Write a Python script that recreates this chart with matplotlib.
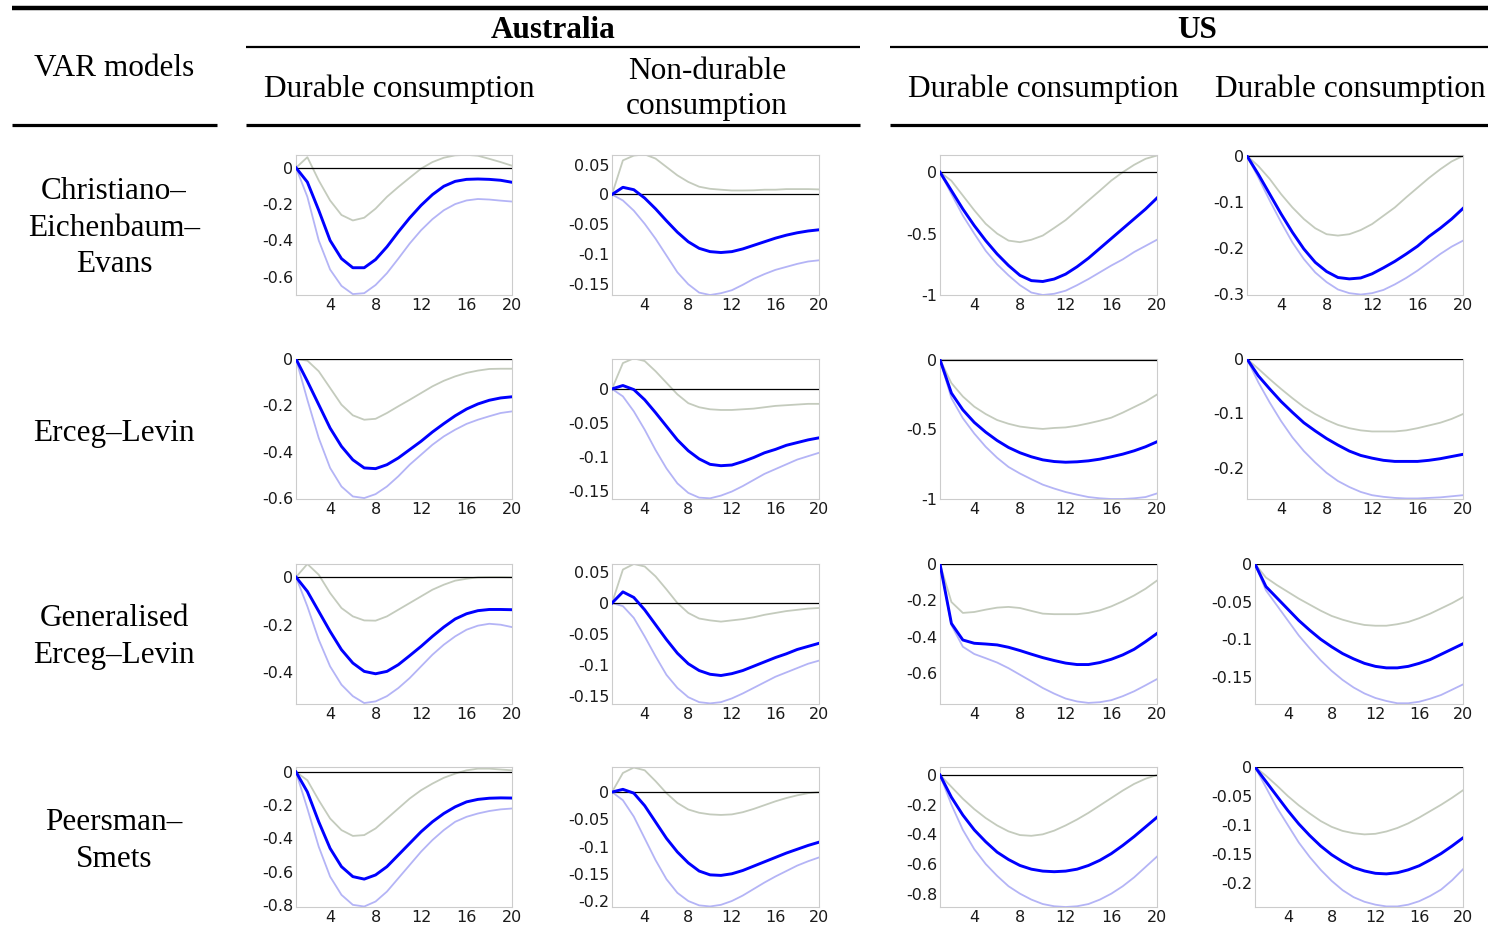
import matplotlib
matplotlib.use("Agg")
import matplotlib.pyplot as plt
from matplotlib.lines import Line2D

plt.rcParams['axes.unicode_minus'] = False

W, H = 1488, 940
horizon = list(range(1, 21))

# ---- impulse responses: median, upper and lower bands ----
# Christiano-Eichenbaum-Evans
cee_au_dur_mid = [0, -0.079, -0.234, -0.40, -0.50, -0.55, -0.55, -0.505, -0.435, -0.353,
                  -0.276, -0.207, -0.148, -0.102, -0.075, -0.064, -0.062, -0.064, -0.069, -0.08]
cee_au_dur_hi = [0, 0.058, -0.07, -0.18, -0.26, -0.29, -0.275, -0.225, -0.16, -0.106,
                 -0.055, -0.005, 0.031, 0.055, 0.068, 0.071, 0.066, 0.049, 0.031, 0.011]
cee_au_dur_lo = [0, -0.16, -0.40, -0.56, -0.65, -0.695, -0.69, -0.645, -0.58, -0.50,
                 -0.417, -0.344, -0.283, -0.234, -0.20, -0.18, -0.172, -0.175, -0.181, -0.186]

cee_au_nd_mid = [0, 0.012, 0.008, -0.006, -0.024, -0.044, -0.063, -0.079, -0.09, -0.0955,
                 -0.097, -0.0955, -0.091, -0.085, -0.079, -0.073, -0.068, -0.064, -0.061, -0.059]
cee_au_nd_hi = [0, 0.057, 0.065, 0.067, 0.06, 0.046, 0.032, 0.021, 0.013, 0.0095,
                0.008, 0.0067, 0.0067, 0.007, 0.008, 0.008, 0.009, 0.009, 0.009, 0.0085]
cee_au_nd_lo = [0, -0.01, -0.027, -0.049, -0.074, -0.102, -0.13, -0.15, -0.164, -0.168,
                -0.165, -0.16, -0.151, -0.141, -0.133, -0.126, -0.121, -0.116, -0.112, -0.11]

cee_us_dur_mid = [0, -0.15, -0.30, -0.435, -0.557, -0.666, -0.76, -0.84, -0.883, -0.89,
                  -0.87, -0.83, -0.77, -0.70, -0.62, -0.54, -0.46, -0.38, -0.30, -0.21]
cee_us_dur_hi = [0, -0.07, -0.19, -0.31, -0.42, -0.50, -0.557, -0.57, -0.55, -0.516,
                 -0.454, -0.39, -0.31, -0.23, -0.15, -0.068, 0.0, 0.06, 0.109, 0.136]
cee_us_dur_lo = [0, -0.177, -0.353, -0.50, -0.64, -0.75, -0.84, -0.92, -0.98, -1.0,
                 -0.99, -0.965, -0.92, -0.87, -0.815, -0.76, -0.71, -0.65, -0.60, -0.55]

cee_us_dur2_mid = [0, -0.04, -0.083, -0.126, -0.166, -0.202, -0.231, -0.251, -0.264, -0.267,
                   -0.265, -0.256, -0.243, -0.229, -0.213, -0.196, -0.175, -0.157, -0.137, -0.114]
cee_us_dur2_hi = [0, -0.022, -0.05, -0.083, -0.112, -0.137, -0.157, -0.17, -0.173, -0.17,
                  -0.161, -0.148, -0.13, -0.112, -0.09, -0.069, -0.048, -0.029, -0.012, 0.0]
cee_us_dur2_lo = [0, -0.047, -0.097, -0.144, -0.188, -0.224, -0.253, -0.274, -0.29, -0.298,
                  -0.301, -0.298, -0.291, -0.279, -0.265, -0.249, -0.231, -0.213, -0.197, -0.184]

# Erceg-Levin
el_au_dur_mid = [0, -0.096, -0.197, -0.298, -0.377, -0.435, -0.47, -0.473, -0.456, -0.427,
                 -0.391, -0.355, -0.315, -0.279, -0.245, -0.216, -0.194, -0.178, -0.168, -0.163]
el_au_dur_hi = [0, -0.007, -0.053, -0.125, -0.197, -0.243, -0.262, -0.258, -0.233, -0.204,
                -0.176, -0.147, -0.118, -0.094, -0.075, -0.06, -0.05, -0.043, -0.042, -0.042]
el_au_dur_lo = [0, -0.176, -0.341, -0.47, -0.55, -0.593, -0.60, -0.583, -0.55, -0.506,
                -0.456, -0.413, -0.37, -0.334, -0.305, -0.28, -0.262, -0.247, -0.233, -0.226]

el_au_nd_mid = [0, 0.005, -0.001, -0.016, -0.035, -0.055, -0.075, -0.091, -0.103, -0.111,
                -0.113, -0.112, -0.107, -0.101, -0.094, -0.089, -0.083, -0.079, -0.075, -0.072]
el_au_nd_hi = [0, 0.038, 0.045, 0.041, 0.026, 0.009, -0.008, -0.021, -0.027, -0.03,
               -0.031, -0.031, -0.03, -0.029, -0.027, -0.025, -0.024, -0.023, -0.022, -0.022]
el_au_nd_lo = [0, -0.011, -0.033, -0.06, -0.09, -0.117, -0.139, -0.153, -0.16, -0.161,
               -0.157, -0.151, -0.143, -0.134, -0.125, -0.118, -0.111, -0.104, -0.099, -0.094]

el_us_dur_mid = [0, -0.24, -0.36, -0.45, -0.52, -0.58, -0.63, -0.668, -0.697, -0.719,
                 -0.731, -0.736, -0.733, -0.726, -0.714, -0.697, -0.678, -0.654, -0.625, -0.589]
el_us_dur_hi = [0, -0.168, -0.264, -0.337, -0.39, -0.433, -0.46, -0.48, -0.49, -0.497,
                -0.49, -0.486, -0.474, -0.457, -0.438, -0.416, -0.38, -0.34, -0.30, -0.25]
el_us_dur_lo = [0, -0.276, -0.42, -0.53, -0.625, -0.704, -0.77, -0.817, -0.858, -0.897,
                -0.925, -0.95, -0.969, -0.986, -0.995, -1.0, -1.0, -0.995, -0.986, -0.96]

el_us_dur2_mid = [0, -0.031, -0.055, -0.078, -0.098, -0.117, -0.132, -0.146, -0.158, -0.169,
                  -0.177, -0.182, -0.186, -0.188, -0.188, -0.188, -0.186, -0.183, -0.179, -0.175]
el_us_dur2_hi = [0, -0.018, -0.037, -0.055, -0.072, -0.088, -0.101, -0.112, -0.121, -0.127,
                 -0.131, -0.133, -0.133, -0.133, -0.131, -0.127, -0.122, -0.117, -0.11, -0.101]
el_us_dur2_lo = [0, -0.043, -0.08, -0.114, -0.144, -0.169, -0.19, -0.209, -0.224, -0.235,
                 -0.244, -0.25, -0.253, -0.255, -0.256, -0.256, -0.255, -0.254, -0.252, -0.25]

# Generalised Erceg-Levin
gel_au_dur_mid = [0, -0.06, -0.144, -0.228, -0.305, -0.361, -0.396, -0.406, -0.396, -0.368,
                  -0.33, -0.291, -0.249, -0.21, -0.176, -0.154, -0.141, -0.136, -0.136, -0.137]
gel_au_dur_hi = [0, 0.055, 0.01, -0.067, -0.13, -0.165, -0.182, -0.183, -0.165, -0.137,
                 -0.109, -0.081, -0.053, -0.032, -0.015, -0.007, -0.001, 0.0, 0.0, -0.001]
gel_au_dur_lo = [0, -0.123, -0.263, -0.375, -0.452, -0.50, -0.529, -0.522, -0.50, -0.466,
                 -0.424, -0.375, -0.326, -0.284, -0.249, -0.221, -0.204, -0.196, -0.20, -0.21]

gel_au_nd_mid = [0, 0.018, 0.009, -0.011, -0.035, -0.059, -0.081, -0.098, -0.109, -0.115,
                 -0.117, -0.114, -0.109, -0.102, -0.095, -0.088, -0.082, -0.075, -0.07, -0.065]
gel_au_nd_hi = [0, 0.054, 0.063, 0.059, 0.043, 0.022, 0.0, -0.016, -0.025, -0.028,
                -0.03, -0.028, -0.026, -0.023, -0.019, -0.016, -0.013, -0.011, -0.009, -0.008]
gel_au_nd_lo = [0, -0.005, -0.024, -0.054, -0.086, -0.116, -0.137, -0.152, -0.16, -0.162,
                -0.16, -0.154, -0.146, -0.137, -0.128, -0.119, -0.112, -0.105, -0.098, -0.093]

gel_us_dur_mid = [0, -0.327, -0.418, -0.436, -0.44, -0.445, -0.458, -0.476, -0.496, -0.515,
                  -0.531, -0.545, -0.553, -0.553, -0.542, -0.524, -0.50, -0.469, -0.427, -0.382]
gel_us_dur_hi = [0, -0.209, -0.269, -0.264, -0.251, -0.24, -0.236, -0.242, -0.258, -0.273,
                 -0.276, -0.276, -0.276, -0.269, -0.255, -0.233, -0.205, -0.173, -0.136, -0.091]
gel_us_dur_lo = [0, -0.336, -0.455, -0.495, -0.518, -0.542, -0.573, -0.609, -0.645, -0.682,
                 -0.713, -0.74, -0.756, -0.764, -0.76, -0.749, -0.727, -0.70, -0.667, -0.633]

gel_us_dur2_mid = [0, -0.03, -0.045, -0.06, -0.075, -0.088, -0.1, -0.11, -0.119, -0.126,
                   -0.132, -0.136, -0.138, -0.138, -0.136, -0.132, -0.127, -0.12, -0.113, -0.106]
gel_us_dur2_hi = [0, -0.018, -0.028, -0.037, -0.046, -0.054, -0.062, -0.069, -0.074, -0.078,
                  -0.081, -0.082, -0.082, -0.08, -0.077, -0.072, -0.066, -0.059, -0.052, -0.044]
gel_us_dur2_lo = [0, -0.035, -0.055, -0.075, -0.095, -0.112, -0.128, -0.142, -0.154, -0.164,
                  -0.172, -0.178, -0.182, -0.185, -0.185, -0.183, -0.179, -0.174, -0.167, -0.16]

# Peersman-Smets
ps_au_dur_mid = [0, -0.12, -0.30, -0.46, -0.57, -0.63, -0.645, -0.62, -0.57, -0.50,
                 -0.43, -0.36, -0.30, -0.25, -0.21, -0.18, -0.165, -0.158, -0.156, -0.157]
ps_au_dur_hi = [0, -0.05, -0.17, -0.28, -0.35, -0.385, -0.38, -0.34, -0.28, -0.22,
                -0.16, -0.11, -0.07, -0.035, -0.01, 0.01, 0.02, 0.02, 0.015, 0.01]
ps_au_dur_lo = [0, -0.22, -0.45, -0.63, -0.74, -0.80, -0.81, -0.78, -0.72, -0.64,
                -0.56, -0.48, -0.41, -0.35, -0.30, -0.27, -0.25, -0.235, -0.225, -0.22]

ps_au_nd_mid = [0, 0.005, -0.002, -0.025, -0.055, -0.085, -0.11, -0.13, -0.145, -0.152,
                -0.153, -0.15, -0.144, -0.136, -0.128, -0.12, -0.112, -0.105, -0.098, -0.092]
ps_au_nd_hi = [0, 0.035, 0.045, 0.04, 0.02, -0.002, -0.02, -0.032, -0.038, -0.041,
               -0.042, -0.041, -0.037, -0.031, -0.024, -0.017, -0.011, -0.006, -0.002, 0.0]
ps_au_nd_lo = [0, -0.015, -0.045, -0.085, -0.125, -0.16, -0.185, -0.20, -0.208, -0.21,
               -0.207, -0.20, -0.19, -0.178, -0.166, -0.155, -0.145, -0.135, -0.127, -0.12]

ps_us_dur_mid = [0, -0.15, -0.27, -0.37, -0.45, -0.52, -0.57, -0.61, -0.635, -0.648,
                 -0.652, -0.648, -0.635, -0.61, -0.575, -0.53, -0.475, -0.415, -0.35, -0.285]
ps_us_dur_hi = [0, -0.08, -0.16, -0.23, -0.29, -0.34, -0.38, -0.405, -0.41, -0.40,
                -0.375, -0.34, -0.30, -0.255, -0.205, -0.155, -0.105, -0.06, -0.025, 0.0]
ps_us_dur_lo = [0, -0.20, -0.37, -0.50, -0.60, -0.68, -0.75, -0.80, -0.84, -0.87,
                -0.885, -0.89, -0.885, -0.87, -0.84, -0.80, -0.75, -0.69, -0.62, -0.55]

ps_us_dur2_mid = [0, -0.025, -0.05, -0.075, -0.098, -0.118, -0.136, -0.151, -0.163, -0.173,
                  -0.179, -0.183, -0.184, -0.182, -0.177, -0.17, -0.16, -0.149, -0.136, -0.122]
ps_us_dur2_hi = [0, -0.015, -0.032, -0.05, -0.066, -0.08, -0.093, -0.103, -0.11, -0.114,
                 -0.116, -0.115, -0.111, -0.105, -0.097, -0.087, -0.076, -0.065, -0.053, -0.04]
ps_us_dur2_lo = [0, -0.035, -0.07, -0.10, -0.13, -0.155, -0.177, -0.196, -0.212, -0.224,
                 -0.232, -0.237, -0.24, -0.24, -0.237, -0.231, -0.222, -0.211, -0.195, -0.176]

# y ticks and limits for each panel, row by row
yticks = [
    [[0, -0.2, -0.4, -0.6], [0.05, 0, -0.05, -0.1, -0.15], [0, -0.5, -1], [0, -0.1, -0.2, -0.3]],
    [[0, -0.2, -0.4, -0.6], [0, -0.05, -0.1, -0.15], [0, -0.5, -1], [0, -0.1, -0.2]],
    [[0, -0.2, -0.4], [0.05, 0, -0.05, -0.1, -0.15], [0, -0.2, -0.4, -0.6], [0, -0.05, -0.1, -0.15]],
    [[0, -0.2, -0.4, -0.6, -0.8], [0, -0.05, -0.1, -0.15, -0.2], [0, -0.2, -0.4, -0.6, -0.8],
     [0, -0.05, -0.1, -0.15, -0.2]],
]
ylims = [
    [(-0.70, 0.07), (-0.168, 0.066), (-1.0, 0.14), (-0.302, 0.002)],
    [(-0.604, 0.0), (-0.162, 0.044), (-1.0, 0.005), (-0.257, 0.0)],
    [(-0.533, 0.055), (-0.163, 0.063), (-0.77, 0.0), (-0.186, 0.0)],
    [(-0.813, 0.03), (-0.211, 0.046), (-0.89, 0.054), (-0.241, 0.0)],
]
xticks = [4, 8, 12, 16, 20]

panels = [
    [(cee_au_dur_mid, cee_au_dur_hi, cee_au_dur_lo), (cee_au_nd_mid, cee_au_nd_hi, cee_au_nd_lo),
     (cee_us_dur_mid, cee_us_dur_hi, cee_us_dur_lo), (cee_us_dur2_mid, cee_us_dur2_hi, cee_us_dur2_lo)],
    [(el_au_dur_mid, el_au_dur_hi, el_au_dur_lo), (el_au_nd_mid, el_au_nd_hi, el_au_nd_lo),
     (el_us_dur_mid, el_us_dur_hi, el_us_dur_lo), (el_us_dur2_mid, el_us_dur2_hi, el_us_dur2_lo)],
    [(gel_au_dur_mid, gel_au_dur_hi, gel_au_dur_lo), (gel_au_nd_mid, gel_au_nd_hi, gel_au_nd_lo),
     (gel_us_dur_mid, gel_us_dur_hi, gel_us_dur_lo), (gel_us_dur2_mid, gel_us_dur2_hi, gel_us_dur2_lo)],
    [(ps_au_dur_mid, ps_au_dur_hi, ps_au_dur_lo), (ps_au_nd_mid, ps_au_nd_hi, ps_au_nd_lo),
     (ps_us_dur_mid, ps_us_dur_hi, ps_us_dur_lo), (ps_us_dur2_mid, ps_us_dur2_hi, ps_us_dur2_lo)],
]

row_labels = ["Christiano–\nEichenbaum–\nEvans", "Erceg–Levin", "Generalised\nErceg–Levin", "Peersman–\nSmets"]
col_labels = ["Durable consumption", "Non-durable\nconsumption", "Durable consumption", "Durable consumption"]
countries = ["Australia", "US"]

# panel boxes in pixels
row_top = [155, 359, 564, 767]
row_h = 140
col_left = [296, 612, 940, 1247]
col_right = [512, 819, 1157, 1463]
row_label_y = [228, 433, 637, 841]
col_label_x = [399, 707, 1043, 1350]

fig = plt.figure(figsize=(W / 100, H / 100), dpi=100)
serif = "Liberation Serif"


def fx(x):
    return x / W


def fy(y):
    return 1 - y / H


def hline(x0, x1, y, lw):
    fig.add_artist(Line2D([fx(x0), fx(x1)], [fy(y), fy(y)], color="black", lw=lw,
                          transform=fig.transFigure, solid_capstyle="butt"))


# table rules
hline(12, 1488, 8, 3.2)
hline(246, 860, 47, 1.6)
hline(890, 1488, 47, 1.6)
hline(12, 217, 125, 2.3)
hline(246, 860, 125, 2.3)
hline(890, 1488, 125, 2.3)

fig.text(fx(553), fy(31), countries[0], ha="center", va="center", family=serif,
         fontsize=22.5, fontweight="bold")
fig.text(fx(1197), fy(31), countries[1], ha="center", va="center", family=serif,
         fontsize=22.5, fontweight="bold")
fig.text(fx(114), fy(69), "VAR models", ha="center", va="center", family=serif, fontsize=22.5)
for x, lab in zip(col_label_x, col_labels):
    fig.text(fx(x), fy(89), lab, ha="center", va="center", family=serif, fontsize=22.5,
             linespacing=1.25)
for y, lab in zip(row_label_y, row_labels):
    fig.text(fx(114), fy(y), lab, ha="center", va="center", family=serif, fontsize=22.5,
             linespacing=1.32)

for i in range(4):
    for j in range(4):
        left = col_left[j]
        if i >= 2 and j == 3:
            left = 1255
        ax = fig.add_axes([fx(left), fy(row_top[i] + row_h), fx(col_right[j] - left), row_h / H])
        mid, hi, lo = panels[i][j]
        ax.plot(horizon, hi, color="#c4cbbd", lw=1.3, zorder=2)
        ax.plot(horizon, lo, color="#b4b4f6", lw=1.3, zorder=2)
        ax.axhline(0, color="black", lw=0.9, zorder=3)
        ax.plot(horizon, mid, color="#0000ff", lw=2.1, zorder=4)
        ax.set_xlim(1, 20)
        ax.set_ylim(*ylims[i][j])
        ax.set_xticks(xticks)
        ax.set_xticklabels([str(t) for t in xticks])
        ax.set_yticks(yticks[i][j])
        ax.set_yticklabels([f"{t:g}" for t in yticks[i][j]])
        ax.tick_params(length=0, pad=2, labelsize=11.5, colors="#1a1a1a")
        for s in ax.spines.values():
            s.set_color("#cccccc")
            s.set_linewidth(0.8)

fig.savefig("out.png", dpi=100)
